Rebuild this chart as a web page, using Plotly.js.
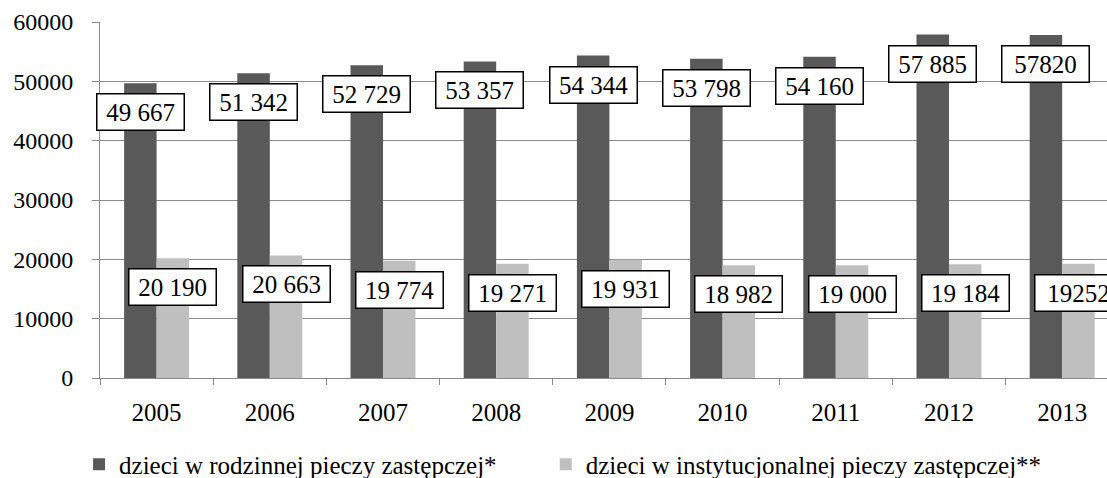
<!DOCTYPE html>
<html>
<head>
<meta charset="utf-8">
<script src="https://cdn.plot.ly/plotly-3.0.1.min.js"></script>
<style>
  html, body { margin: 0; padding: 0; background: #fff; overflow: hidden; }
  #chart { width: 1107px; height: 478px; }
</style>
</head>
<body>
<div id="chart"></div>
<script>
// ── Data ─────────────────────────────────────────────────────────────────────
const years = ['2005', '2006', '2007', '2008', '2009', '2010', '2011', '2012', '2013'];
const rodzinna = [49667, 51342, 52729, 53357, 54344, 53798, 54160, 57885, 57820];
const instytucjonalna = [20190, 20663, 19774, 19271, 19931, 18982, 19000, 19184, 19252];
const rodzinnaLabels = ['49 667', '51 342', '52 729', '53 357', '54 344', '53 798', '54 160', '57 885', '57820'];
const instytucjonalnaLabels = ['20 190', '20 663', '19 774', '19 271', '19 931', '18 982', '19 000', '19 184', '19252'];
const seriesNames = ['dzieci w rodzinnej pieczy zastępczej*', 'dzieci w instytucjonalnej pieczy zastępczej**'];

// ── Style ────────────────────────────────────────────────────────────────────
const DARK = '#595959', LIGHT = '#bfbfbf', GRID = '#8a8a8a';
const FONT = 'Liberation Serif';
const HALF_BAR = 16.3;   // px offset from group centre to each bar centre

const traces = [
  { type: 'bar', x: years, y: rodzinna, name: seriesNames[0], marker: { color: DARK }, legend: 'legend' },
  { type: 'bar', x: years, y: instytucjonalna, name: seriesNames[1], marker: { color: LIGHT }, legend: 'legend2' }
];

// ── Boxed data labels (Excel "inside end") ───────────────────────────────────
function boxLabel(i, y, text, dx) {
  return {
    x: i, y: y, text: text, xref: 'x', yref: 'y',
    xshift: dx, yshift: -29,
    showarrow: false,
    width: 78,
    bgcolor: '#ffffff', bordercolor: '#000000', borderwidth: 1.5, borderpad: 4,
    font: { family: FONT, size: 25, color: '#000' }
  };
}
const annotations = [];
years.forEach((yr, i) => {
  annotations.push(boxLabel(i, rodzinna[i], rodzinnaLabels[i], -HALF_BAR));
  annotations.push(boxLabel(i, instytucjonalna[i], instytucjonalnaLabels[i], HALF_BAR));
});

const legendBase = {
  orientation: 'h', xref: 'container', yref: 'container',
  xanchor: 'left', y: 0.0764, yanchor: 'top',
  font: { family: FONT, size: 25, color: '#000' }
};

const layout = {
  width: 1107, height: 478,
  paper_bgcolor: '#fff', plot_bgcolor: '#fff',
  font: { family: FONT, size: 24, color: '#000' },
  margin: { l: 100, r: 0, t: 22, b: 100, pad: 0 },
  barmode: 'group', bargap: 0.426, bargroupgap: 0,
  xaxis: {
    type: 'category', automargin: false,
    range: [-0.5, 8.396],
    showline: true, linecolor: GRID, linewidth: 1,
    ticks: 'outside', tickson: 'boundaries', ticklen: 6, tickcolor: GRID,
    ticklabelstandoff: 12,
    showgrid: false,
    tickfont: { family: FONT, size: 25, color: '#000' }
  },
  yaxis: {
    automargin: false,
    range: [0, 60000], dtick: 10000, tickformat: 'd',
    showline: true, linecolor: GRID, linewidth: 1,
    ticks: 'outside', ticklen: 7, tickcolor: GRID,
    ticklabelstandoff: 14,
    showgrid: true, gridcolor: GRID, gridwidth: 1,
    zeroline: false,
    tickfont: { family: FONT, size: 24, color: '#000' }
  },
  showlegend: true,
  legend: Object.assign({}, legendBase, { x: 0.0714 }),
  legend2: Object.assign({}, legendBase, { x: 0.493 }),
  annotations: annotations
};

Plotly.newPlot('chart', traces, layout, { displayModeBar: false, staticPlot: true });
</script>
</body>
</html>
